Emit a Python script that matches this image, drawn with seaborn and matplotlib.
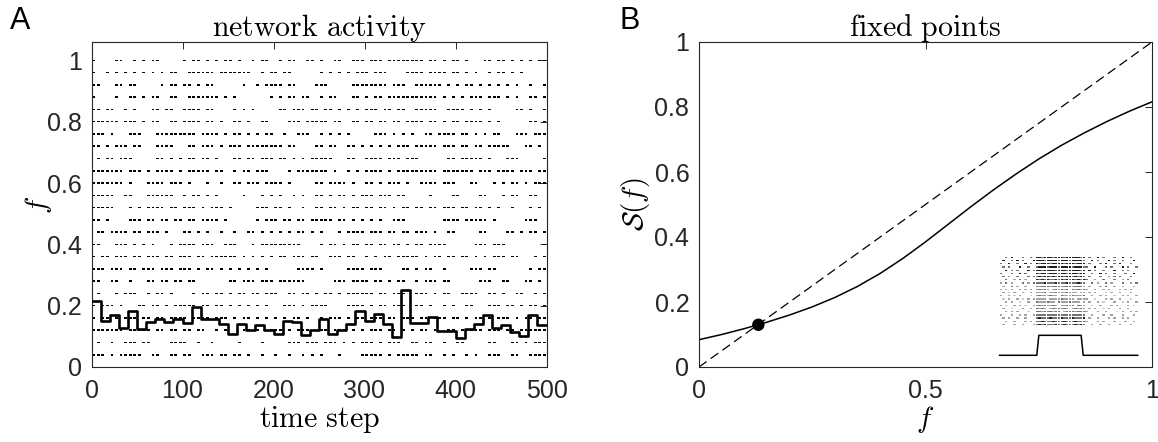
import numpy as np
import pandas as pd
import matplotlib
matplotlib.use("Agg")
import matplotlib.pyplot as plt
import seaborn as sns

# ---------------- data: panel A ----------------
# population activity per bin of 10 time steps (bin start times)
bin_starts = [0, 10, 20, 30, 40, 50, 60, 70, 80, 90,
              100, 110, 120, 130, 140, 150, 160, 170, 180, 190,
              200, 210, 220, 230, 240, 250, 260, 270, 280, 290,
              300, 310, 320, 330, 340, 350, 360, 370, 380, 390,
              400, 410, 420, 430, 440, 450, 460, 470, 480, 490, 500]
pop_rate = [0.215, 0.150, 0.170, 0.128, 0.182, 0.125, 0.147, 0.157, 0.147, 0.155,
            0.145, 0.195, 0.157, 0.155, 0.140, 0.108, 0.141, 0.120, 0.136, 0.120,
            0.108, 0.151, 0.147, 0.103, 0.122, 0.157, 0.107, 0.122, 0.141, 0.182,
            0.150, 0.173, 0.141, 0.098, 0.250, 0.143, 0.143, 0.163, 0.118, 0.118,
            0.096, 0.125, 0.140, 0.168, 0.127, 0.136, 0.113, 0.100, 0.170, 0.136]

# raster: one row per neuron (bottom to top); each group = 50 steps, each char = 5 steps
neuron_levels = [0.04, 0.08, 0.12, 0.16, 0.20, 0.24, 0.28, 0.32, 0.36, 0.40,
                 0.44, 0.48, 0.52, 0.56, 0.60, 0.64, 0.68, 0.72, 0.76, 0.80,
                 0.84, 0.88, 0.92, 0.96, 1.00]
raster_rows = [
    "###-#-#### #--##--##- ##--###-## -##-#--#-- #--#--#-#- #---#----# ####-#-### ##-##--#-# --#-#--### --##--####",
    "-#--#--### -##----### #--#--#--- --#----#-- ---###-### -###-#-#-# ##-#-###-- ##-##--#-- ##-----##- --##-#-###",
    "#######-## ###-##-##- ##-##--#-# ---##-#--# ##-#-###-- ##-###-#-# -###-##-#- #-##-#--## -#####-### -##-######",
    "#-##-#-### -##-##-### #-####-### -#-##-#-#- #-#-##-#-- #-###-#-## -###-##-## #-##-###-# #-#-##-#-# ##-#-##-##",
    "#-###-#--- ##-##-#-## ###-##-##- #-#-#-#-#- --###-#-## ##----#### -#-##-###- -##-#--#-# --##---### -##-#-##-#",
    "-#---#-### --#-##-#-- --#-##-##- #-##-##-## #--##-##-# -##-#-#### ##-##-###- -###-#-##- -####--##- #--##--#-#",
    "##--##--#- --##-##-## -##------- ##-###-### -######--- ---###-### #-##-#-##- -#-###-##- -----###-- ##---##-#-",
    "###-###-## -###-###-# ##-#-##-#- #-#-#-#-#- -----####- #-----#### -###----## -#-##--#-- ---###-##- ------#-##",
    "#-##-###-# #-###-##-# ##-##-#### ##-#-#-#-# -##-###-## --###-##-- #-#-##-### ##-#-##-## -##-#-#-## #-##---#-#",
    "##---###-# -#-#---#-# ###-###--# ##---#-### ######---- #-##-#-##- ##-##-##-# -##-####-- ----###-## #--------#",
    "-##-####-# #-###-#--- ##-#-#--#- -#--##-#-# -#-#-##-#- #---#-#### -###-##-## -###-#--## -----##--- -##-#-##-#",
    "##-#----## #-##-##-## -##-####-# ------#-## #-##-##-## ###-##-#-# -#-#--###- -------### #-#####-#- -----###--",
    "#####---#- #-####-##- ###-#-###- #-----###- ##-#--#--# #-##-#-##- ##-##-#-## -##-##-### -##-##-#-# --#---#-#-",
    "#####--##- --######-- #-##-#-#-- ---#---#-# -#--#-#--# #-#-##-#-# ##-###-##- ----#----# #----##--- #-##--##--",
    "#######-#- --####-### -#---#--#- -##-###-## ##-#-----# #-####-#-- ##-#-###-# --####-### ---##---#- #-##-#-###",
    "#######-## #-#-####-# -#####-##- -#-##-###- ---#-##### ##-#--#-#- ####-#-### ######-### ####-###-# ###-###-##",
    "-#-##-###- ----##-#-# -##-##-#-- -##-##-### -##-#-#-## ###---##-- ####-###-# ##------## -#####-#-- -###-----#",
    "##-#-###-# #---####-- -##-###-#- ###-###### ##-##----# #-##--##-# -#-#-#-### -#####-### -##-##-### ##---##-#-",
    "###-#---## #---###### ###-####-# -##-#-#-## --#--###-- #-#-#-#--- --###-#-#- #--##-#### -##-#-#-## ---###-###",
    "######-### -#-##--##- ####-##-#- -##-#--##- ---###-### ##-##--##- ##-##-##-# ###-##-#-# #-####-#-# ------##-#",
    "##-##--#-# ---##-##-- ####-##--- -#-#-#---- -##-###-## -##-#-#-#- ###-##-##- -#####--## ##-#-#-#-- ---##-#--#",
    "#----#--## -#-##--##- -#######-# -#-------# -#-##-##-- #-##---##- #-##-##### ######-#-# -#-###-### -#-#--##-#",
    "##---##-## -----#-##- ##-#-##--- ---#--#-## ##-##----# ##-----### #####-###- -######-#- #-##-#-#-# -#-#--#--#",
    "#--#-#-#-# -#-#-#-##- -######-## #####--#-# #-##------ #-#-#-#-## #-###----# ###-####-# #-#-#--#-# #-#-#-----",
    "#----##--# -#-##----- #-##-#-#-# #-#--#-##- -#-##--##- #--##--### -###-##### ###-##-#-# #-#---##-# #-#-#-#-##",
]
a_xticks = [0, 100, 200, 300, 400, 500]
a_yticks = [0, 0.2, 0.4, 0.6, 0.8, 1.0]
a_yticklabels = ["0", "0.2", "0.4", "0.6", "0.8", "1"]

# ---------------- data: panel B ----------------
f_grid = [0.00, 0.05, 0.10, 0.15, 0.20, 0.25, 0.30, 0.35, 0.40, 0.45, 0.50,
          0.55, 0.60, 0.65, 0.70, 0.75, 0.80, 0.85, 0.90, 0.95, 1.00]
S_vals = [0.084, 0.100, 0.118, 0.138, 0.160, 0.185, 0.214, 0.248, 0.288, 0.334, 0.385,
          0.439, 0.493, 0.545, 0.594, 0.640, 0.682, 0.720, 0.755, 0.787, 0.816]
identity_f = [0.0, 1.0]
fixed_f = [0.131]
fixed_S = [0.130]
b_xticks = [0, 0.5, 1]
b_xticklabels = ["0", "0.5", "1"]
b_yticks = [0, 0.2, 0.4, 0.6, 0.8, 1.0]
b_yticklabels = ["0", "0.2", "0.4", "0.6", "0.8", "1"]

# inset raster (top row first): '.' none, 1 light grey ... 4 black
inset_rows = [
    "..3.4...3..3.|443444344434444434|.3..4.3...3..4..3..",
    ".4..3.4.3...4|444344443444344443|..4.3...4.3..3...4.",
    "3..4..3..4.3.|434443444434443444|.3...3.4..3.4...3..",
    ".3.3...4..3..|344434443444434443|3..4...3.3...4.3..3",
    "..4.3.3...4.3|443444434443444434|.4.3..3...4..3.3...",
    "3...3..4.3...|434434443443444344|..3..4.3..3...3..4.",
    ".3.2..3...3.3|343443434434434343|.3...3..2.3.3...3..",
    "..3..2.3.2...|434343343434343434|3..2..3...3..2.3...",
    "2.3.2...3.2.3|333433343334333433|..3.2..3.2...3..2.3",
    ".2..3.2..2...|323332333233323332|.2...2.3..2..2...2.",
    "2.2.2..2.2.2.|23232.232323.32323|2..2..2.2...2.2.2..",
    ".2.1.2..2..2.|2223.2232223222.22|.2.2...1.2..2...2..",
    "2..2.1.2...1.|23222322.322232223|..2..2.2..1..2.2..2",
    ".1.2..2.1.2.2|2222.222232222.222|2..1...2.2..2...1..",
    "..2.2..1..2..|3222322.32223222.2|.2..2.1...2..1.2..2",
    "2.1..2.2.1..2|23232232.22323.322|..1..2...2.2...2.1.",
    ".2..1...2..2.|3232.2323232.23232|.2.2..1.2...2..2...",
    "..2.2.2...1..|332333233.23332333|2...2..2...1.2..2.2",
    "2...2..2.2..2|333333333333333333|..2...2..2...2...2.",
    ".2.2..2..2...|343334333433343334|.2..2...2.2..2.2...",
    "..2..2...2.2.|334333433343334333|2...2.2...2...2..2.",
    ".2...2..2...2|343433343343334343|..2..2..2...2...2..",
]
inset_palette = {"1": "0.80", "2": "0.64", "3": "0.45", "4": "0.12"}
# inset stimulus trace (time in % of window, on/off)
stim_t = [0, 27, 28.5, 59, 60.5, 100]
stim_on = [0, 0, 1, 1, 0, 0]

# ---------------- style ----------------
sns.set_theme(style="white")
plt.rcParams["font.family"] = ["Liberation Sans", "DejaVu Sans"]
plt.rcParams["mathtext.fontset"] = "cm"
AX_COL = "0.15"

fig = plt.figure(figsize=(11.58, 4.42), dpi=100)
W, H = 1158.0, 442.0
axA = fig.add_axes([91.5 / W, 75 / H, 455 / W, 325 / H])
axB = fig.add_axes([699 / W, 75 / H, 453 / W, 325 / H])

dash = [(-1, -0.55), (1, -0.55), (1, 0.55), (-1, 0.55), (-1, -0.55)]

# ---------- panel A ----------
pts = []
for lev, row in zip(neuron_levels, raster_rows):
    for g, grp in enumerate(row.split()):
        for j, ch in enumerate(grp):
            if ch == "#":
                pts.append((50 * g + 5 * j + 2.5, lev))
df_r = pd.DataFrame(pts, columns=["t", "f"])
sns.scatterplot(data=df_r, x="t", y="f", marker=dash, s=4.2, color="black",
                linewidth=0, edgecolor="none", legend=False, ax=axA, zorder=2)

rate_ext = pop_rate + [pop_rate[-1]]
sns.lineplot(x=bin_starts, y=rate_ext, drawstyle="steps-post", color="black",
             lw=1.9, ax=axA, zorder=3)

axA.set_xlim(0, 500)
axA.set_ylim(0, 1.06)
axA.set_xticks(a_xticks)
axA.set_xticklabels([str(v) for v in a_xticks])
axA.set_yticks(a_yticks)
axA.set_yticklabels(a_yticklabels)
axA.set_title(r"$\mathrm{network\ activity}$", fontsize=21.5, pad=4, color="black")
axA.set_xlabel(r"$\mathrm{time\ step}$", fontsize=21.5, labelpad=1, color="black")
axA.set_ylabel(r"$f$", fontsize=21, labelpad=-5, color="black")

# ---------- panel B ----------
sns.lineplot(x=identity_f, y=identity_f, color="black", lw=0.9, ax=axB,
             linestyle=(0, (7.5, 4)))
sns.lineplot(x=f_grid, y=S_vals, color="black", lw=1.1, ax=axB)
sns.scatterplot(x=fixed_f, y=fixed_S, s=80, color="black", linewidth=0,
                edgecolor="none", ax=axB, zorder=5, legend=False)

axB.set_xlim(0, 1)
axB.set_ylim(0, 1)
axB.set_xticks(b_xticks)
axB.set_xticklabels(b_xticklabels)
axB.set_yticks(b_yticks)
axB.set_yticklabels(b_yticklabels)
axB.set_title(r"$\mathrm{fixed\ points}$", fontsize=21.5, pad=4, color="black")
axB.set_xlabel(r"$f$", fontsize=21, labelpad=1, color="black")
axB.set_ylabel(r"$\mathcal{S}(f)$", fontsize=21, labelpad=2, color="black")

for ax in (axA, axB):
    ax.tick_params(direction="in", length=5, width=0.7, top=True, right=True,
                   labelsize=18, colors=AX_COL)
    ax.tick_params(axis="x", pad=8.5)
    ax.tick_params(axis="y", pad=7)
    for sp in ax.spines.values():
        sp.set_color(AX_COL)
        sp.set_linewidth(0.8)
        sp.set_visible(True)
    ax.grid(False)

# ---------- inset in panel B ----------
rax = axB.inset_axes([0.663, 0.126, 0.306, 0.216], transform=axB.transData)
n_r = len(inset_rows)
ipts = []
for i, row in enumerate(inset_rows):
    for j, ch in enumerate(row.replace("|", "")):
        if ch != ".":
            ipts.append((j + 0.5, n_r - i - 0.5, ch))
df_i = pd.DataFrame(ipts, columns=["col", "row", "level"])
sns.scatterplot(data=df_i, x="col", y="row", hue="level", palette=inset_palette,
                marker=dash, s=3.0, linewidth=0, edgecolor="none", legend=False, ax=rax)
rax.set_xlim(0, 50)
rax.set_ylim(0, n_r)
rax.set_xlabel("")
rax.set_ylabel("")
rax.set_xticks([])
rax.set_yticks([])
rax.axis("off")
rax.patch.set_alpha(0)

sax = axB.inset_axes([0.663, 0.036, 0.306, 0.0615], transform=axB.transData)
sns.lineplot(x=stim_t, y=stim_on, color="black", lw=1.1, ax=sax)
for ln in sax.lines:
    ln.set_clip_on(False)
sax.set_xlim(0, 100)
sax.set_ylim(0, 1)
sax.set_xlabel("")
sax.set_ylabel("")
sax.set_xticks([])
sax.set_yticks([])
sax.axis("off")
sax.patch.set_alpha(0)

# panel letters
fig.text(10 / W, 1 - 6 / H, "A", fontsize=22, ha="left", va="top", color="black")
fig.text(619 / W, 1 - 6 / H, "B", fontsize=22, ha="left", va="top", color="black")

fig.savefig("out.png", dpi=100)
